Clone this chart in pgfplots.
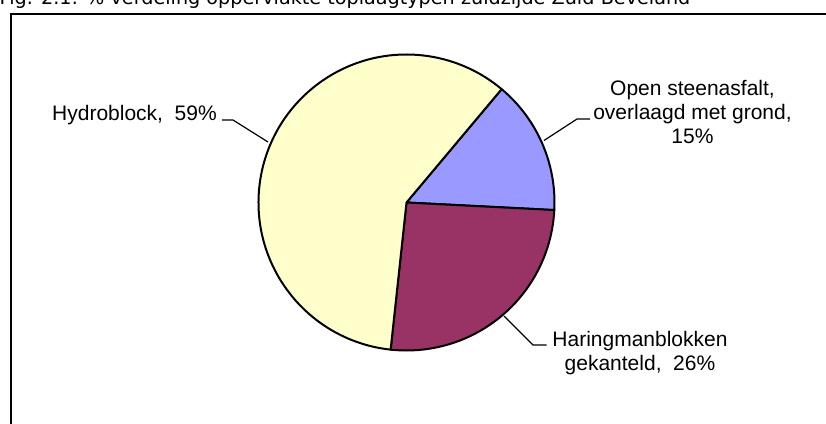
\documentclass[border=0pt]{standalone}
\usepackage{pgfplots}
\pgfplotsset{compat=1.18}
\usepackage{pgfplotstable}
\usepackage{fontspec}
\setmainfont{Liberation Sans}
\newfontfamily\titlefont{DejaVu Sans}
\definecolor{pieblue}{HTML}{9999FF}
\definecolor{piered}{HTML}{993366}
\definecolor{pieyellow}{HTML}{FFFFCC}

% shares of the pie (percent), clockwise from the first slice
\pgfplotstableread{
share
14.7
25.9
59.4
}\piedata

\begin{document}
\begin{tikzpicture}
\pgfplotstablegetelem{0}{share}\of\piedata \let\sA\pgfplotsretval
\pgfplotstablegetelem{1}{share}\of\piedata \let\sB\pgfplotsretval
\pgfplotstablegetelem{2}{share}\of\piedata \let\sC\pgfplotsretval
\pgfmathsetmacro\aZero{50}
\pgfmathsetmacro\aOne{\aZero-3.6*\sA}
\pgfmathsetmacro\aTwo{\aOne-3.6*\sB}
\pgfmathsetmacro\aThree{\aTwo-3.6*\sC}
\def\R{148bp}
\begin{axis}[x=1bp,y=1bp,xmin=0,xmax=826,ymin=0,ymax=424,y dir=reverse,
  hide axis,clip=false,anchor=south west,at={(0,0)}]
% frame
\draw[line width=2bp] (axis cs:11,450) -- (axis cs:11,13.6) -- (axis cs:850,13.6);
% title (cut at top, as in the reference)
\node[anchor=base west,inner sep=0,font=\titlefont\fontsize{19.2bp}{22bp}\selectfont]
  at (axis cs:-0.5,4.7) {Fig. 2.1: \% verdeling oppervlakte toplaagtypen zuidzijde Zuid-Beveland};
% pie
\filldraw[fill=pieblue,draw=black,line width=2bp,line join=round]
  (axis cs:406.5,202.5) -- ++(\aZero:\R) arc[start angle=\aZero,end angle=\aOne,radius=\R] -- cycle;
\filldraw[fill=piered,draw=black,line width=2bp,line join=round]
  (axis cs:406.5,202.5) -- ++(\aOne:\R) arc[start angle=\aOne,end angle=\aTwo,radius=\R] -- cycle;
\filldraw[fill=pieyellow,draw=black,line width=2bp,line join=round]
  (axis cs:406.5,202.5) -- ++(\aTwo:\R) arc[start angle=\aTwo,end angle=\aThree,radius=\R] -- cycle;
% leader lines
\draw[line width=1.2bp] (axis cs:222,120) -- (axis cs:233,120) -- (axis cs:268,142);
\draw[line width=1.2bp] (axis cs:590,119) -- (axis cs:577,119) -- (axis cs:544,140.5);
\draw[line width=1.2bp] (axis cs:546.5,345) -- (axis cs:533,345) -- (axis cs:504,316);
% labels
\begin{scope}[every node/.style={inner sep=0,font=\fontsize{21bp}{24bp}\selectfont}]
\node[anchor=base east] at (axis cs:217,120) {Hydroblock,\ \ 59\%};
\node[anchor=base] at (axis cs:692.5,95) {Open steenasfalt,};
\node[anchor=base] at (axis cs:692.5,119) {overlaagd met grond,};
\node[anchor=base] at (axis cs:692.5,143) {15\%};
\node[anchor=base] at (axis cs:640,346.5) {Haringmanblokken};
\node[anchor=base] at (axis cs:640,370) {gekanteld,\ \ 26\%};
\end{scope}
\end{axis}
\pgfresetboundingbox
\useasboundingbox (0,0) rectangle (826bp,424bp);
\end{tikzpicture}
\end{document}
